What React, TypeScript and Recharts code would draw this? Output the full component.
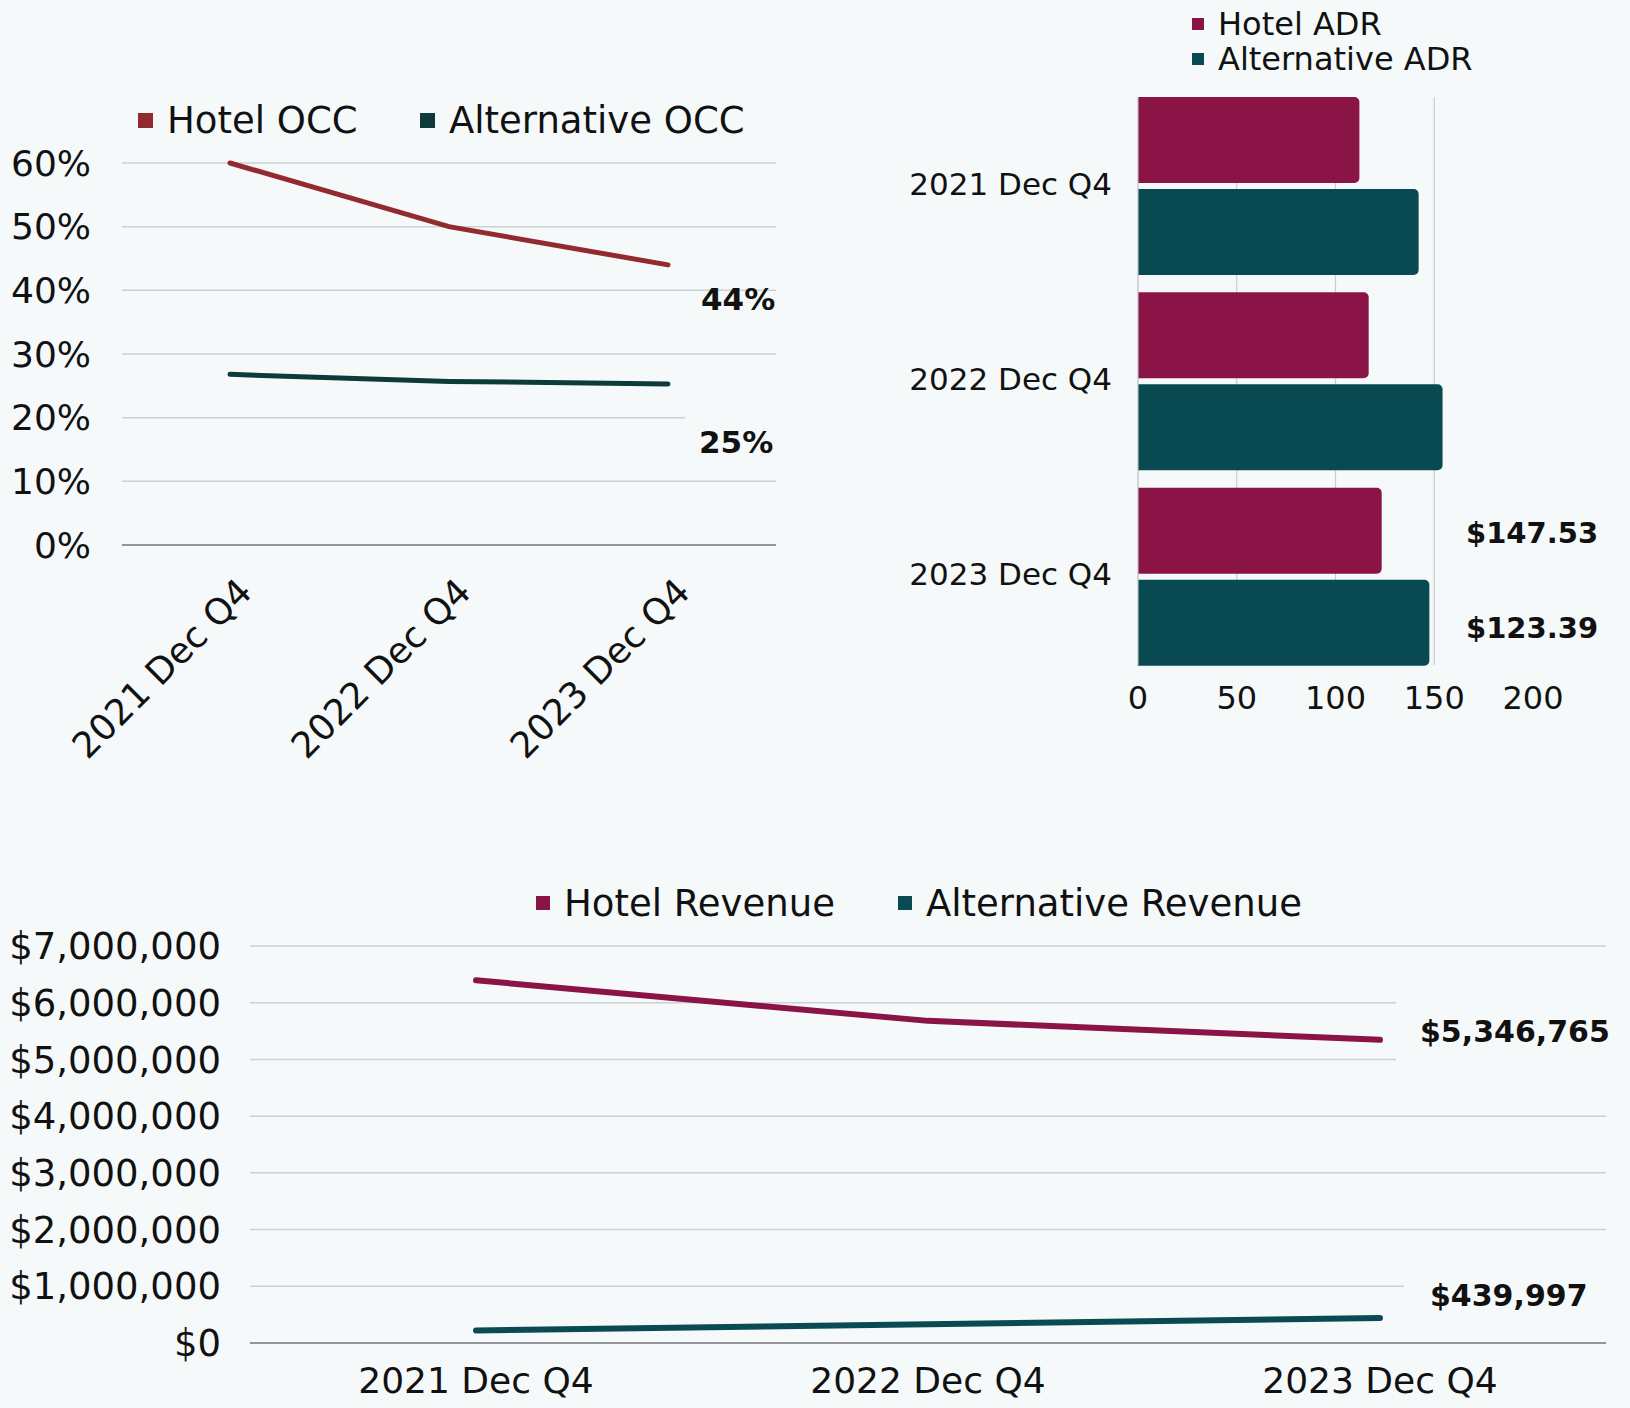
import React from 'react'
import { LineChart, Line, BarChart, Bar, XAxis, YAxis, CartesianGrid, LabelList } from 'recharts'

const BG = '#f5f9fa'
const FONT = '"DejaVu Sans", sans-serif'
const INK = '#111111'

const OCC_HOTEL = '#922a2f'
const OCC_ALT = '#0c3b3a'
const ADR_HOTEL = '#8b1446'
const ADR_ALT = '#094a52'
const REV_HOTEL = '#8b1446'
const REV_ALT = '#0a4a52'

const quarters = ['2021 Dec Q4', '2022 Dec Q4', '2023 Dec Q4']

const hotelOcc = [0.6, 0.5, 0.44]
const altOcc = [0.268, 0.257, 0.253]
const occTicks = [0, 0.1, 0.2, 0.3, 0.4, 0.5, 0.6]

const hotelAdr = [112.1, 116.8, 123.39]
const altAdr = [142.1, 154.2, 147.53]
const adrTicks = [0, 50, 100, 150, 200]

const hotelRevenue = [6395000, 5680000, 5346765]
const altRevenue = [220000, 330000, 439997]
const revenueTicks = [0, 1000000, 2000000, 3000000, 4000000, 5000000, 6000000, 7000000]

const LAST = quarters.length - 1

const pct = (v: number) => `${Math.round(v * 100)}%`
const money = (v: number) => '$' + Math.round(v).toLocaleString('en-US')
const money2 = (v: number) => '$' + v.toFixed(2)

// label at the end of a line, with a background box that hides the gridline behind it
function endLabel(fmt: (v: number) => string, dx: number, dy: number, size: number, box?: { x: number; y: number; w: number; h: number }) {
  return (p: any) => {
    if (p.index !== LAST) return null
    const tx = p.x + dx
    const ty = p.y + dy
    return (
      <g>
        {box && <rect x={tx + box.x} y={ty + box.y} width={box.w} height={box.h} fill={BG} />}
        <text x={tx} y={ty} fontFamily={FONT} fontWeight={700} fontSize={size} fill={INK} dominantBaseline="central">
          {fmt(Number(p.value))}
        </text>
      </g>
    )
  }
}

function barLabel(fmt: (v: number) => string, fixedX: number, dy: number) {
  return (p: any) => {
    if (p.index !== LAST) return null
    return (
      <text x={fixedX} y={p.y + p.height / 2 + dy} fontFamily={FONT} fontWeight={700} fontSize={29} fill={INK} dominantBaseline="central">
        {fmt(Number(p.value))}
      </text>
    )
  }
}

function RotTick(props: any) {
  const { x, y, payload } = props
  const ax = x + 24
  const ay = y + 47
  return (
    <text x={ax} y={ay} transform={`rotate(-45, ${ax}, ${ay})`} textAnchor="end" fontFamily={FONT} fontSize={36} fill={INK}>
      {payload.value}
    </text>
  )
}

function AdrTick(props: any) {
  const { x, y, payload } = props
  return (
    <text x={x} y={y - 2} textAnchor="end" dominantBaseline="central" fontFamily={FONT} fontSize={31} fill={INK}>
      {payload.value}
    </text>
  )
}

function LegendItem({ left, top, color, label, size, sq }: { left: number; top: number; color: string; label: string; size: number; sq: number }) {
  return (
    <div style={{ position: 'absolute', left, top, whiteSpace: 'nowrap' }}>
      <div style={{ position: 'absolute', left: 0, top: -sq / 2, width: sq, height: sq, background: color }} />
      <span style={{ position: 'absolute', left: sq + 14, top: 0, transform: 'translateY(-50%)', fontFamily: FONT, fontSize: size, color: INK, lineHeight: 1 }}>
        {label}
      </span>
    </div>
  )
}

export default function App() {
  const occData = quarters.map((q, i) => ({ quarter: q, hotel: hotelOcc[i], alt: altOcc[i] }))
  const adrData = quarters.map((q, i) => ({ quarter: q, hotel: hotelAdr[i], alt: altAdr[i] }))
  const revData = quarters.map((q, i) => ({ quarter: q, hotel: hotelRevenue[i], alt: altRevenue[i] }))

  return (
    <div style={{ position: 'absolute', left: 0, top: 0, width: 1630, height: 1408, background: BG, overflow: 'hidden' }}>
      {/* occupancy */}
      <div style={{ position: 'absolute', left: 0, top: 0 }}>
        <LineChart width={800} height={780} data={occData} margin={{ top: 163, right: 24, bottom: 0, left: 0 }}>
          <CartesianGrid vertical={false} stroke="#cdd1d2" strokeWidth={1.5} />
          <XAxis
            dataKey="quarter"
            height={235}
            padding={{ left: 108, right: 108 }}
            interval={0}
            tickLine={false}
            tickSize={0}
            axisLine={{ stroke: '#7b7e80', strokeWidth: 1.5 }}
            tick={<RotTick />}
          />
          <YAxis
            width={122}
            domain={[0, 0.6]}
            ticks={occTicks}
            tickFormatter={pct}
            axisLine={false}
            tickLine={false}
            tickSize={0}
            tickMargin={31}
            tick={{ fontSize: 36, fill: INK, fontFamily: FONT }}
          />
          <Line dataKey="hotel" stroke={OCC_HOTEL} strokeWidth={5} dot={false} strokeLinecap="round" isAnimationActive={false}>
            <LabelList dataKey="hotel" content={endLabel(pct, 33, 34, 31)} />
          </Line>
          <Line dataKey="alt" stroke={OCC_ALT} strokeWidth={5} dot={false} strokeLinecap="round" isAnimationActive={false}>
            <LabelList dataKey="alt" content={endLabel(pct, 31, 58, 31, { x: -14, y: -32, w: 110, h: 64 })} />
          </Line>
        </LineChart>
      </div>
      <LegendItem left={138} top={120} color={OCC_HOTEL} label="Hotel OCC" size={37} sq={15} />
      <LegendItem left={420} top={120} color={OCC_ALT} label="Alternative OCC" size={37} sq={15} />

      {/* ADR */}
      <div style={{ position: 'absolute', left: 860, top: 0 }}>
        <BarChart
          layout="vertical"
          width={770}
          height={720}
          data={adrData}
          margin={{ top: 97, right: 97, bottom: 0, left: 0 }}
          barCategoryGap={9}
          barGap={6}
        >
          <CartesianGrid horizontal={false} verticalValues={[50, 100, 150]} stroke="#c9cdce" strokeWidth={1.2} />
          <XAxis
            type="number"
            domain={[0, 200]}
            ticks={adrTicks}
            height={55}
            axisLine={false}
            tickLine={false}
            tickSize={0}
            tickMargin={21}
            tick={{ fontSize: 32, fill: INK, fontFamily: FONT }}
          />
          <YAxis
            type="category"
            dataKey="quarter"
            width={278}
            padding={{ top: -9, bottom: -9 }}
            axisLine={{ stroke: '#b9bdbf', strokeWidth: 1.2 }}
            tickLine={false}
            tickSize={0}
            tickMargin={26}
            tick={<AdrTick />}
          />
          <Bar dataKey="hotel" fill={ADR_HOTEL} radius={[0, 5, 5, 0]} isAnimationActive={false}>
            <LabelList dataKey="hotel" content={barLabel(money2, 606, 97)} />
          </Bar>
          <Bar dataKey="alt" fill={ADR_ALT} radius={[0, 5, 5, 0]} isAnimationActive={false}>
            <LabelList dataKey="alt" content={barLabel(money2, 606, -90)} />
          </Bar>
        </BarChart>
      </div>
      <LegendItem left={1192} top={24} color={ADR_HOTEL} label="Hotel ADR" size={32} sq={12} />
      <LegendItem left={1192} top={59} color={ADR_ALT} label="Alternative ADR" size={32} sq={12} />

      {/* revenue */}
      <div style={{ position: 'absolute', left: 0, top: 840 }}>
        <LineChart width={1630} height={568} data={revData} margin={{ top: 106, right: 24, bottom: 0, left: 0 }}>
          <CartesianGrid vertical={false} stroke="#cdd1d2" strokeWidth={1.5} />
          <XAxis
            dataKey="quarter"
            height={65}
            padding={{ left: 226, right: 226 }}
            interval={0}
            tickLine={false}
            tickSize={0}
            tickMargin={24}
            axisLine={{ stroke: '#7b7e80', strokeWidth: 1.5 }}
            tick={{ fontSize: 36, fill: INK, fontFamily: FONT }}
          />
          <YAxis
            width={250}
            domain={[0, 7000000]}
            ticks={revenueTicks}
            tickFormatter={money}
            axisLine={false}
            tickLine={false}
            tickSize={0}
            tickMargin={29}
            tick={{ fontSize: 37, fill: INK, fontFamily: FONT }}
          />
          <Line dataKey="hotel" stroke={REV_HOTEL} strokeWidth={6} dot={false} strokeLinecap="round" isAnimationActive={false}>
            <LabelList dataKey="hotel" content={endLabel(money, 40, -8, 30, { x: -24, y: -36, w: 240, h: 80 })} />
          </Line>
          <Line dataKey="alt" stroke={REV_ALT} strokeWidth={6} dot={false} strokeLinecap="round" isAnimationActive={false}>
            <LabelList dataKey="alt" content={endLabel(money, 50, -23, 30, { x: -26, y: -35, w: 220, h: 70 })} />
          </Line>
        </LineChart>
      </div>
      <LegendItem left={536} top={903} color={REV_HOTEL} label="Hotel Revenue" size={37} sq={14} />
      <LegendItem left={898} top={903} color={REV_ALT} label="Alternative Revenue" size={37} sq={14} />
    </div>
  )
}
